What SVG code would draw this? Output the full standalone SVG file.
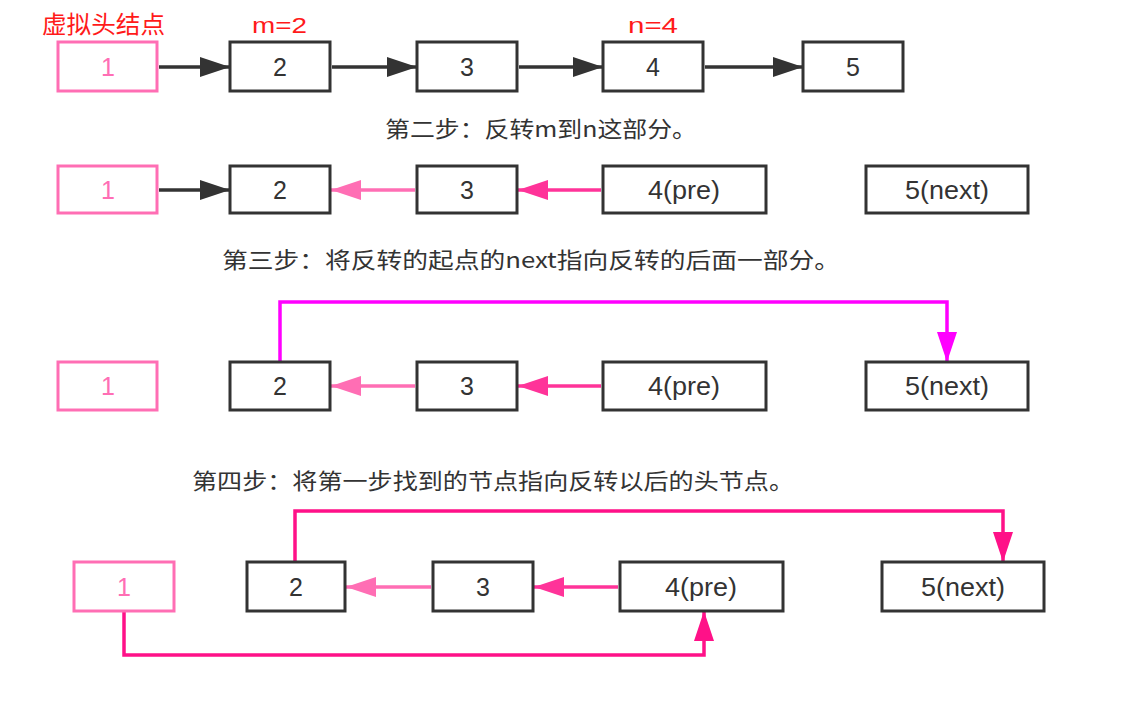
<svg xmlns="http://www.w3.org/2000/svg" width="1148" height="702" viewBox="0 0 1148 702">
<style>
  .bx{fill:#fff;stroke:#333;stroke-width:3}
  .pk{fill:#fff;stroke:#ff6eb4;stroke-width:3}
  .t{font-family:"Liberation Sans",Arial,sans-serif;font-size:25px;fill:#333;text-anchor:middle}
  .tp{font-family:"Liberation Sans",Arial,sans-serif;font-size:25px;fill:#ff6eb4;text-anchor:middle}
  .cap{font-family:"Noto Sans CJK SC","Noto Sans",sans-serif;font-size:22px;fill:#333}
  .red{font-family:"Noto Sans CJK SC","Noto Sans",sans-serif;font-size:24px;fill:#ff1a1a}
  .redl{font-family:"Liberation Sans",Arial,sans-serif;font-size:22px;fill:#ff1a1a}
  .ab{fill:none;stroke:#333;stroke-width:3.5}
  .al{fill:none;stroke:#ff6eb4;stroke-width:3.5}
  .ad{fill:none;stroke:#ff3399;stroke-width:3.5}
  .am{fill:none;stroke:#ff00ff;stroke-width:3.5}
  .ar{fill:none;stroke:#ff1188;stroke-width:3.5}
</style>
<defs>
  <marker id="mb" markerUnits="userSpaceOnUse" markerWidth="30" markerHeight="20" refX="30" refY="10" orient="auto"><path d="M0,0 L30,10 L0,20 z" fill="#333"/></marker>
  <marker id="ml" markerUnits="userSpaceOnUse" markerWidth="30" markerHeight="20" refX="30" refY="10" orient="auto"><path d="M0,0 L30,10 L0,20 z" fill="#ff6eb4"/></marker>
  <marker id="md" markerUnits="userSpaceOnUse" markerWidth="30" markerHeight="20" refX="30" refY="10" orient="auto"><path d="M0,0 L30,10 L0,20 z" fill="#ff3399"/></marker>
  <marker id="mm" markerUnits="userSpaceOnUse" markerWidth="30" markerHeight="20" refX="30" refY="10" orient="auto"><path d="M0,0 L30,10 L0,20 z" fill="#ff00ff"/></marker>
  <marker id="mr" markerUnits="userSpaceOnUse" markerWidth="30" markerHeight="20" refX="30" refY="10" orient="auto"><path d="M0,0 L30,10 L0,20 z" fill="#ff1188"/></marker>
</defs>
<rect width="1148" height="702" fill="#fff"/>

<g id="labels">
  <text class="red" x="42" y="33" textLength="123" lengthAdjust="spacingAndGlyphs">虚拟头结点</text>
  <text class="redl" x="252" y="33" textLength="55" lengthAdjust="spacingAndGlyphs">m=2</text>
  <text class="redl" x="628" y="33" textLength="50" lengthAdjust="spacingAndGlyphs">n=4</text>
  <text class="cap" x="385" y="137" textLength="312" lengthAdjust="spacingAndGlyphs">第二步：反转m到n这部分。</text>
  <text class="cap" x="222" y="268" textLength="618" lengthAdjust="spacingAndGlyphs">第三步：将反转的起点的next指向反转的后面一部分。</text>
  <text class="cap" x="192" y="489" textLength="602" lengthAdjust="spacingAndGlyphs">第四步：将第一步找到的节点指向反转以后的头节点。</text>
</g>

<g id="connectors">
  <line class="ab" x1="159" y1="67" x2="230" y2="67" marker-end="url(#mb)"/>
  <line class="ab" x1="332" y1="67" x2="417" y2="67" marker-end="url(#mb)"/>
  <line class="ab" x1="519" y1="67" x2="603" y2="67" marker-end="url(#mb)"/>
  <line class="ab" x1="705" y1="67" x2="803" y2="67" marker-end="url(#mb)"/>

  <line class="ab" x1="159" y1="190" x2="230" y2="190" marker-end="url(#mb)"/>
  <line class="al" x1="415" y1="190" x2="331" y2="190" marker-end="url(#ml)"/>
  <line class="ad" x1="601" y1="190" x2="518" y2="190" marker-end="url(#md)"/>

  <line class="al" x1="415" y1="386" x2="331" y2="386" marker-end="url(#ml)"/>
  <line class="ad" x1="601" y1="386" x2="518" y2="386" marker-end="url(#md)"/>
  <polyline class="am" points="280,361 280,302 947,302 947,362" marker-end="url(#mm)"/>

  <line class="al" x1="431" y1="587" x2="346" y2="587" marker-end="url(#ml)"/>
  <line class="ad" x1="618" y1="587" x2="534" y2="587" marker-end="url(#md)"/>
  <polyline class="ar" points="295,561 295,511 1003,511 1003,562" marker-end="url(#mr)"/>
  <polyline class="ar" points="124,612 124,655 704,655 704,611" marker-end="url(#mr)"/>
</g>

<g id="r1n1"><rect class="pk" x="58" y="42" width="99" height="49"/><text class="tp" x="108" y="76">1</text></g>
<g id="r1n2"><rect class="bx" x="230" y="42" width="100" height="49"/><text class="t" x="280" y="76">2</text></g>
<g id="r1n3"><rect class="bx" x="417" y="42" width="100" height="49"/><text class="t" x="467" y="76">3</text></g>
<g id="r1n4"><rect class="bx" x="603" y="42" width="100" height="49"/><text class="t" x="653" y="76">4</text></g>
<g id="r1n5"><rect class="bx" x="803" y="42" width="100" height="49"/><text class="t" x="853" y="76">5</text></g>

<g id="r2n1"><rect class="pk" x="58" y="166" width="99" height="47"/><text class="tp" x="108" y="199">1</text></g>
<g id="r2n2"><rect class="bx" x="230" y="166" width="100" height="47"/><text class="t" x="280" y="199">2</text></g>
<g id="r2n3"><rect class="bx" x="417" y="166" width="100" height="47"/><text class="t" x="467" y="199">3</text></g>
<g id="r2n4"><rect class="bx" x="603" y="166" width="163" height="47"/><text class="t" x="684" y="199" textLength="72" lengthAdjust="spacingAndGlyphs">4(pre)</text></g>
<g id="r2n5"><rect class="bx" x="866" y="166" width="162" height="47"/><text class="t" x="947" y="199" textLength="84" lengthAdjust="spacingAndGlyphs">5(next)</text></g>

<g id="r3n1"><rect class="pk" x="58" y="362" width="99" height="48"/><text class="tp" x="108" y="395">1</text></g>
<g id="r3n2"><rect class="bx" x="230" y="362" width="100" height="48"/><text class="t" x="280" y="395">2</text></g>
<g id="r3n3"><rect class="bx" x="417" y="362" width="100" height="48"/><text class="t" x="467" y="395">3</text></g>
<g id="r3n4"><rect class="bx" x="603" y="362" width="163" height="48"/><text class="t" x="684" y="395" textLength="72" lengthAdjust="spacingAndGlyphs">4(pre)</text></g>
<g id="r3n5"><rect class="bx" x="866" y="362" width="162" height="48"/><text class="t" x="947" y="395" textLength="84" lengthAdjust="spacingAndGlyphs">5(next)</text></g>

<g id="r4n1"><rect class="pk" x="74" y="562" width="100" height="49"/><text class="tp" x="124" y="596">1</text></g>
<g id="r4n2"><rect class="bx" x="247" y="562" width="98" height="49"/><text class="t" x="296" y="596">2</text></g>
<g id="r4n3"><rect class="bx" x="433" y="562" width="100" height="49"/><text class="t" x="483" y="596">3</text></g>
<g id="r4n4"><rect class="bx" x="620" y="562" width="163" height="49"/><text class="t" x="701" y="596" textLength="72" lengthAdjust="spacingAndGlyphs">4(pre)</text></g>
<g id="r4n5"><rect class="bx" x="882" y="562" width="162" height="49"/><text class="t" x="963" y="596" textLength="84" lengthAdjust="spacingAndGlyphs">5(next)</text></g>
</svg>
